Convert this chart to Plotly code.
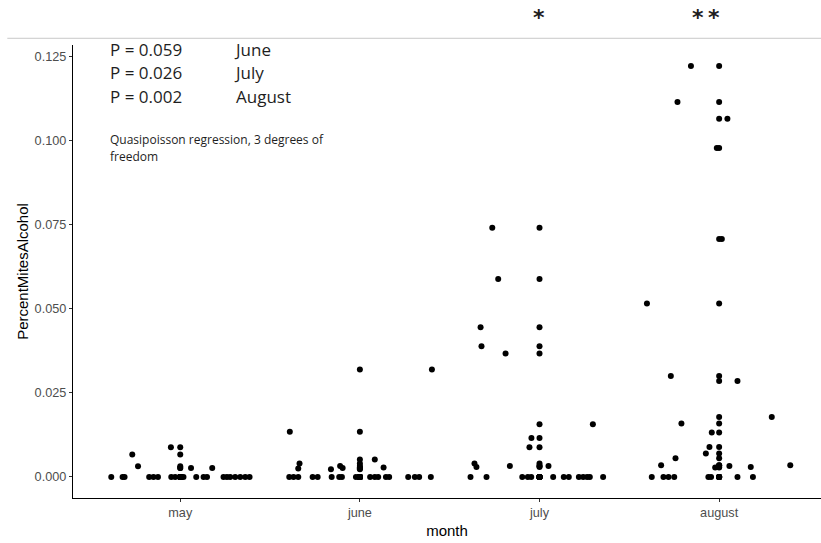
import plotly.graph_objects as go

# ---------------- data ----------------
months = ["may", "june", "july", "august"]

may_values = [0, 0, 0, 0, 0, 0, 0, 0, 0, 0, 0, 0, 0, 0, 0, 0, 0, 0, 0,
              0.0027, 0.0027, 0.0032, 0.0067, 0.0088]
may_jitter = [-0.384, -0.321, -0.310, -0.173, -0.149, -0.124, -0.050, -0.028, 0.018,
              0.089, 0.130, 0.149, 0.241, 0.260, 0.278, 0.306, 0.334, 0.362, 0.386,
              0.060, 0.178, -0.235, -0.267, -0.052]

june_values = [0, 0, 0, 0, 0, 0, 0, 0, 0, 0, 0, 0, 0, 0, 0, 0, 0, 0,
               0.0319, 0.0134, 0.0052, 0.0040, 0.0025, 0.0023, 0.0033, 0.0027, 0.0028]
june_jitter = [-0.393, -0.369, -0.343, -0.263, -0.235, -0.157, -0.115, -0.100, -0.022,
               0.057, 0.083, 0.102, 0.145, 0.163, 0.269, 0.306, 0.330, 0.395,
               0.401, -0.390, 0.083, -0.336, -0.343, -0.161, -0.110, -0.096, 0.132]

july_values = [0, 0, 0, 0, 0, 0, 0, 0, 0, 0, 0, 0, 0,
               0.0740, 0.0588, 0.0445, 0.0388, 0.0367, 0.0157, 0.0116, 0.0088,
               0.0040, 0.0030, 0.0033, 0.0033]
july_jitter = [-0.384, -0.295, -0.096, -0.065, -0.046, 0.076, 0.135, 0.163, 0.219,
               0.243, 0.265, 0.280, 0.354,
               -0.263, -0.230, -0.328, -0.323, -0.189, 0.297, -0.045, -0.056,
               -0.362, -0.351, -0.165, 0.050]

august_values = [0, 0, 0, 0, 0, 0, 0, 0,
                 0.1221, 0.1114, 0.1064, 0.0977, 0.0707, 0.0515, 0.0300, 0.0285,
                 0.0178, 0.0159, 0.0132, 0.0089, 0.0070, 0.0056, 0.0035, 0.0028,
                 0.0033, 0.0030, 0.0035]
august_jitter = [-0.375, -0.310, -0.282, -0.250, -0.060, -0.045, 0.102, 0.188,
                 -0.157, -0.232, 0.046, -0.013, 0.015, -0.402, -0.269, 0.102,
                 0.293, -0.210, -0.041, -0.054, -0.074, -0.243, -0.323, -0.022,
                 0.057, 0.176, 0.396]

p_values = ["P = 0.059", "P = 0.026", "P = 0.002"]
p_months = ["June", "July", "August"]
note_lines = ["Quasipoisson regression, 3 degrees of", "freedom"]
stars = {"july": "*", "august": "*\u2009*"}

# ---------------- build traces ----------------
all_values = [may_values, june_values, july_values, august_values]
all_jitter = [may_jitter, june_jitter, july_jitter, august_jitter]

x_center, y_center, x_jit, y_jit = [], [], [], []
for i, (vals, jit) in enumerate(zip(all_values, all_jitter)):
    pos = i + 1
    for v, j in zip(vals, jit):
        x_center.append(pos)
        y_center.append(v)
        x_jit.append(pos + j)
        y_jit.append(v)

fig = go.Figure()
marker = dict(color="black", size=6, line=dict(width=0))
fig.add_trace(go.Scatter(x=x_center, y=y_center, mode="markers", marker=marker,
                         showlegend=False, hoverinfo="skip"))
fig.add_trace(go.Scatter(x=x_jit, y=y_jit, mode="markers", marker=marker,
                         showlegend=False))

# ---------------- layout geometry (pixels) ----------------
W, H = 821, 543
L, R, T, B = 72.7, 821.0, 45.0, 497.7


def px(x):
    return (x - L) / (R - L)


def py(y):
    return (B - y) / (B - T)


axis_font = dict(family="Liberation Sans, Arial, sans-serif", size=12.7, color="#4d4d4d")
title_font = dict(family="Liberation Sans, Arial, sans-serif", size=15, color="black")

fig.update_layout(
    width=W, height=H,
    margin=dict(l=L, r=W - R, t=T, b=H - B, pad=0),
    paper_bgcolor="white", plot_bgcolor="white",
    xaxis=dict(
        range=[0.403, 4.567], tickvals=[1, 2, 3, 4], ticktext=months,
        showgrid=False, zeroline=False, showline=True, linecolor="black", linewidth=1.2,
        ticks="outside", ticklen=3, tickwidth=1, tickcolor="#333333",
        tickfont=axis_font,
        title=dict(text="month", font=title_font, standoff=6),
    ),
    yaxis=dict(
        range=[-0.00624, 0.1283], tickvals=[0, 0.025, 0.05, 0.075, 0.1, 0.125],
        ticktext=["0.000", "0.025", "0.050", "0.075", "0.100", "0.125"],
        showgrid=False, zeroline=False, showline=True, linecolor="black", linewidth=1.2,
        ticks="outside", ticklen=3, tickwidth=1, tickcolor="#333333",
        tickfont=axis_font,
        title=dict(text="PercentMitesAlcohol", font=title_font, standoff=2),
    ),
)

# gray separator line from the original screenshot
fig.add_shape(type="line", xref="paper", yref="paper",
              x0=px(7), x1=px(821), y0=py(38.3), y1=py(38.3),
              line=dict(color="#c8c8c8", width=1))

txt_font = dict(family="Open Sans, sans-serif", size=17, color="#1e1e1e")
rows_y = [49, 72, 96]
for ptxt, mtxt, yy, mx in zip(p_values, p_months, rows_y, [234, 234, 236]):
    fig.add_annotation(text=ptxt, xref="paper", yref="paper", x=px(108), y=py(yy),
                       xanchor="left", yanchor="middle", showarrow=False, font=txt_font)
    fig.add_annotation(text=mtxt, xref="paper", yref="paper", x=px(mx - 2), y=py(yy),
                       xanchor="left", yanchor="middle", showarrow=False, font=txt_font)

note_font = dict(family="Open Sans, sans-serif", size=12, color="#1e1e1e")
for line, yy in zip(note_lines, [139, 156]):
    fig.add_annotation(text=line, xref="paper", yref="paper", x=px(108), y=py(yy),
                       xanchor="left", yanchor="middle", showarrow=False, font=note_font)

star_font = dict(family="DejaVu Sans, sans-serif", size=22, color="#1e1e1e")
star_x = {"july": 538.5, "august": 706}
for m, s in stars.items():
    fig.add_annotation(text="<b>" + s + "</b>", xref="paper", yref="paper", x=px(star_x[m]),
                       y=py(18), xanchor="center", yanchor="middle", showarrow=False,
                       font=star_font)

fig.write_html("out.html", config={"displayModeBar": False},
               post_script="document.body.style.margin='0';document.body.style.padding='0';")
